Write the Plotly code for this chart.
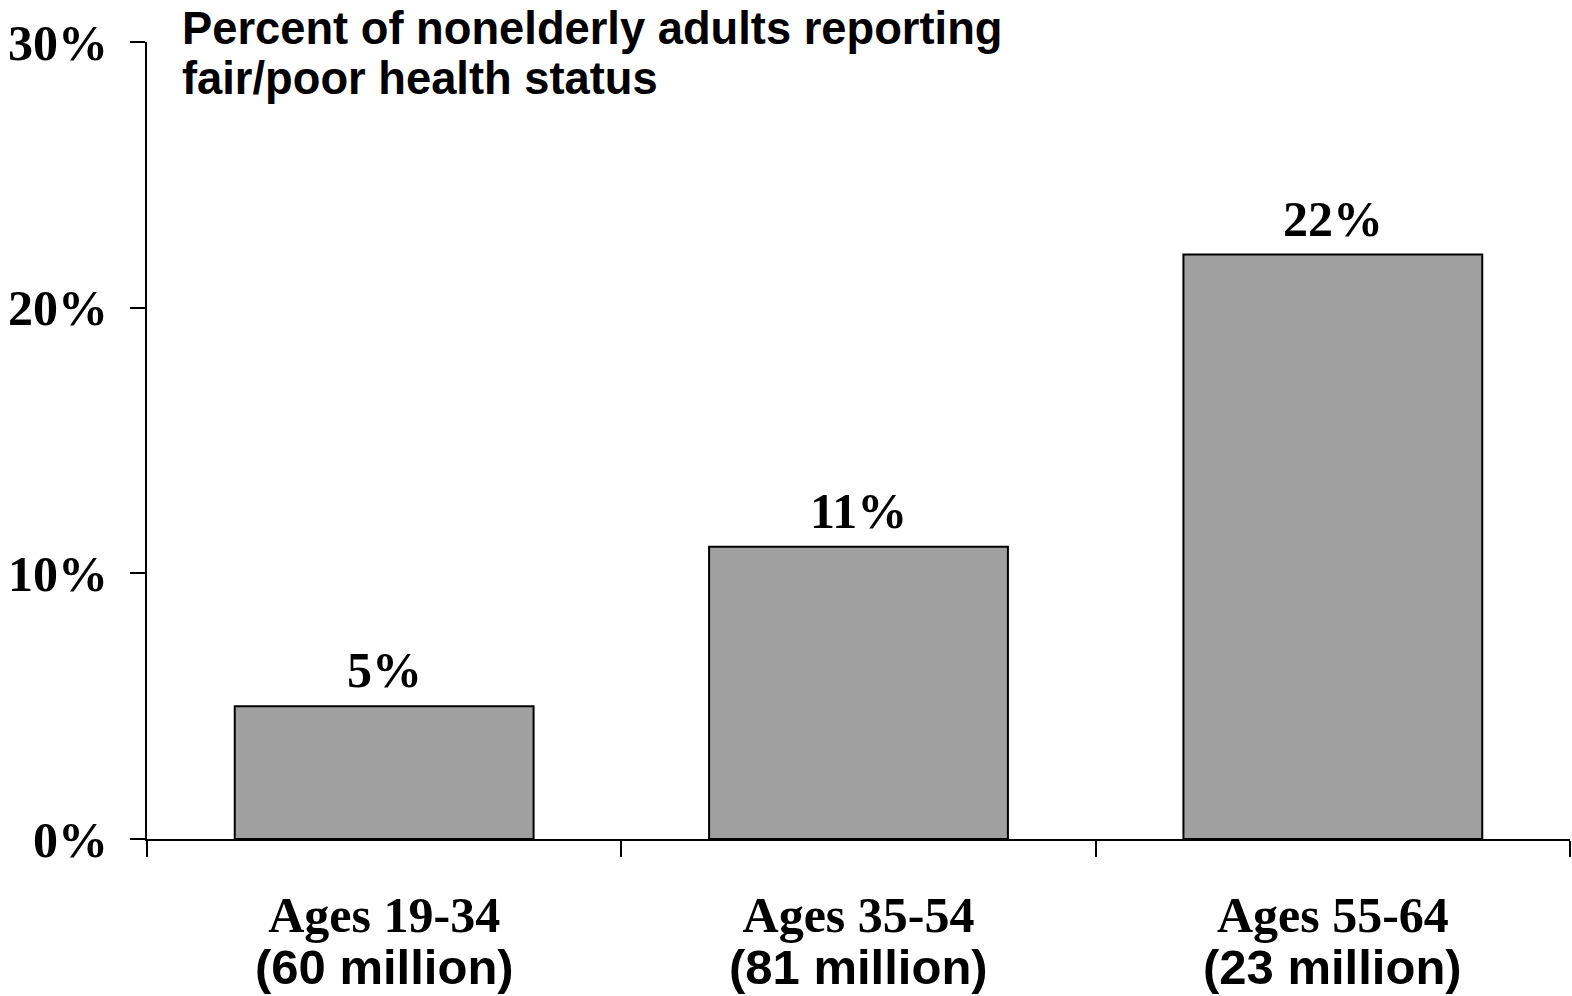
import plotly.graph_objects as go

categories = ["Ages 19-34", "Ages 35-54", "Ages 55-64"]
populations = ["(60 million)", "(81 million)", "(23 million)"]
values = [5, 11, 22]
value_labels = ["5%", "11%", "22%"]
y_ticks = [0, 10, 20, 30]
y_ticktext = ["0%", "10%", "20%", "30%"]
title_lines = ["Percent of nonelderly adults reporting", "fair/poor health status"]

SERIF = "Liberation Serif"
SANS = "Liberation Sans"

fig = go.Figure()
fig.add_trace(go.Bar(
    x=categories,
    y=values,
    marker=dict(color="#a0a0a0", line=dict(color="#000000", width=2)),
    width=0.63,
    hoverinfo="skip",
))

for c, v, t in zip(categories, values, value_labels):
    fig.add_annotation(
        x=c, y=v, xref="x", yref="y", text=t, showarrow=False,
        yanchor="bottom", yshift=6,
        font=dict(family=SERIF, size=50, color="#000000", weight="bold"),
    )

for c, p in zip(categories, populations):
    fig.add_annotation(
        x=c, y=0, xref="x", yref="paper", text=p, showarrow=False,
        yanchor="top", yshift=-99,
        font=dict(family=SANS, size=49, color="#000000", weight="bold"),
    )

for i, line in enumerate(title_lines):
    fig.add_annotation(
        x=0.0232, y=1, xref="paper", yref="paper", xanchor="left", yanchor="top",
        yshift=41 - 50 * i, align="left", text=line, showarrow=False,
        font=dict(family=SANS, size=45.3, color="#000000", weight="bold"),
    )

fig.update_layout(
    width=1572, height=996,
    margin=dict(l=147, r=2, t=42, b=157),
    paper_bgcolor="white", plot_bgcolor="white",
    showlegend=False,
    xaxis=dict(
        type="category", range=[-0.5, 2.5],
        tickmode="array", tickvals=categories, ticktext=categories,
        tickson="boundaries", ticks="outside", ticklen=16, tickwidth=2,
        tickcolor="#000000",
        showline=True, linecolor="#000000", linewidth=2,
        showgrid=False, zeroline=False,
        tickfont=dict(family=SERIF, size=50, color="#000000", weight="bold"),
        ticklabelstandoff=31,
    ),
    yaxis=dict(
        range=[0, 30], tickmode="array", tickvals=y_ticks, ticktext=y_ticktext,
        ticks="outside", ticklen=15, tickwidth=2, tickcolor="#000000",
        showline=True, linecolor="#000000", linewidth=2,
        showgrid=False, zeroline=False,
        tickfont=dict(family=SERIF, size=50, color="#000000", weight="bold"),
        ticklabelstandoff=12,
    ),
)

fig.write_html("out.html")
